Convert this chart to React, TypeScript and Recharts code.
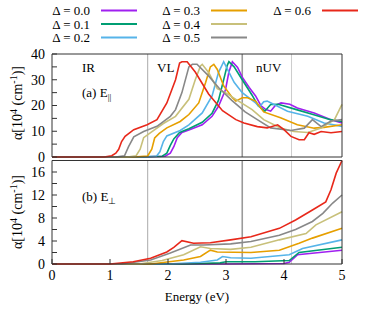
import { LineChart, Line, XAxis, YAxis, ReferenceLine } from 'recharts';

type Pt = [number, number];

const deltas = ['0.0', '0.1', '0.2', '0.3', '0.4', '0.5', '0.6'];
const colors = ['#a020f0', '#009e73', '#56b4e9', '#e69f00', '#c8c07a', '#888888', '#e8281a'];

const xTicks = [0, 1, 2, 3, 4, 5];
const topYTicks = [0, 5, 10, 15, 20, 25, 30, 35, 40];
const botYTicks = [0, 2, 4, 6, 8, 10, 12, 14, 16];
const regionEdges = [1.65, 3.28, 4.13];
const regionLabels = ['IR', 'VL', 'nUV'];

// (a) E parallel
const par00: Pt[] = [[0, 0], [1.5, 0], [1.95, 0.3], [2.04, 1.5], [2.1, 4], [2.16, 7.5], [2.24, 9.5], [2.36, 10.5], [2.59, 12.5], [2.76, 15.8], [2.87, 19.7], [2.99, 26], [3.05, 33], [3.11, 37], [3.2, 34.8], [3.28, 31], [3.4, 27], [3.51, 23.7], [3.6, 20], [3.68, 18.5], [3.77, 17.8], [3.85, 20], [3.95, 21], [4.1, 20.5], [4.23, 19], [4.52, 17.1], [4.81, 14.5], [5.0, 13.2]];
const par01: Pt[] = [[0, 0], [1.5, 0], [1.9, 0.3], [1.98, 1.5], [2.04, 4.5], [2.1, 7], [2.2, 9.5], [2.36, 11], [2.59, 13.5], [2.76, 17], [2.87, 22], [2.96, 30], [3.02, 35.5], [3.05, 37], [3.14, 35], [3.28, 30], [3.45, 24], [3.55, 20], [3.67, 17.8], [3.77, 20.4], [3.9, 20.5], [4.2, 18.5], [4.5, 16.5], [4.8, 14.5], [5.0, 13.8]];
const par02: Pt[] = [[0, 0], [1.5, 0], [1.8, 0.3], [1.86, 2], [1.92, 6], [1.98, 8.2], [2.21, 10.3], [2.36, 12.5], [2.59, 17.1], [2.76, 23.7], [2.87, 32.8], [2.96, 37], [3.05, 33], [3.14, 29], [3.28, 25], [3.51, 21], [3.58, 19.5], [3.65, 21.5], [3.71, 21.7], [3.83, 20.4], [4.06, 17.8], [4.41, 15.8], [4.69, 13.2], [5.0, 11.9]];
const par03: Pt[] = [[0, 0], [1.4, 0], [1.65, 0.4], [1.72, 3], [1.77, 7.4], [1.85, 9.2], [1.98, 11.3], [2.21, 13.8], [2.36, 16.5], [2.53, 21], [2.65, 29], [2.73, 35], [2.79, 36], [2.85, 34], [2.96, 27.6], [3.11, 23], [3.17, 21.7], [3.28, 23], [3.37, 23], [3.51, 21.7], [3.65, 17.5], [3.94, 15.2], [4.23, 12.5], [4.52, 11.2], [4.69, 11.5], [5.0, 12.5]];
const par04: Pt[] = [[0, 0], [1.3, 0], [1.45, 0.5], [1.52, 3], [1.58, 7.5], [1.7, 9.5], [1.92, 13], [2.13, 15.8], [2.36, 22.4], [2.47, 30], [2.56, 35.4], [2.59, 36], [2.7, 32.8], [2.79, 29], [2.85, 26.5], [2.99, 25], [3.17, 22.4], [3.45, 18.4], [3.65, 14.5], [3.94, 11.3], [4.17, 9.9], [4.41, 9.5], [4.64, 11.3], [4.87, 14.5], [5.0, 20.4]];
const par05: Pt[] = [[0, 0], [1.1, 0], [1.25, 0.5], [1.32, 4], [1.41, 7.8], [1.58, 9.9], [1.81, 11.9], [2.04, 15.8], [2.13, 18.4], [2.24, 25], [2.36, 35], [2.42, 36], [2.5, 36], [2.7, 31.5], [2.87, 27], [3.1, 22], [3.33, 17.5], [3.54, 14.5], [3.77, 11.3], [4.12, 10.3], [4.35, 11.2], [4.49, 14.5], [4.64, 11.8], [4.81, 14], [5.0, 14.5]];
const par06: Pt[] = [[0, 0], [0.9, 0], [1.03, 0.5], [1.1, 1.5], [1.15, 3], [1.2, 6], [1.26, 8], [1.41, 10.6], [1.64, 12.5], [1.81, 14.5], [1.98, 21], [2.13, 30], [2.2, 36.5], [2.24, 37], [2.33, 37], [2.47, 33], [2.7, 24.5], [2.94, 18], [3.17, 14.5], [3.31, 13.2], [3.54, 11.8], [3.71, 11.3], [3.89, 12.5], [4.0, 10.6], [4.12, 8], [4.26, 6.7], [4.35, 6.7], [4.43, 9.4], [4.52, 8.8], [4.64, 9.9], [4.81, 9.4], [5.0, 9.9]];

// (b) E perpendicular
const perp00: Pt[] = [[0, 0], [3.0, 0], [4.0, 0.1], [4.09, 0.3], [4.23, 1.6], [5.0, 2.4]];
const perp01: Pt[] = [[0, 0], [2.3, 0], [2.9, 0.2], [3.0, 0.4], [3.5, 0.4], [4.09, 0.6], [4.26, 2.0], [5.0, 2.9]];
const perp02: Pt[] = [[0, 0], [2.0, 0], [2.56, 0.3], [2.85, 0.7], [2.94, 1.3], [3.08, 1.1], [3.43, 1.0], [4.09, 1.6], [4.32, 2.7], [5.0, 4.2]];
const perp03: Pt[] = [[0, 0], [1.7, 0], [2.27, 0.7], [2.56, 1.3], [2.73, 2.4], [2.85, 2.1], [3.43, 2.0], [3.92, 2.4], [4.26, 3.6], [4.49, 4.5], [5.0, 6.2]];
const perp04: Pt[] = [[0, 0], [1.5, 0], [1.9, 0.6], [2.27, 1.6], [2.56, 3], [2.73, 2.7], [3.08, 2.55], [3.43, 2.9], [3.92, 4.2], [4.38, 5.3], [4.55, 6.8], [5.0, 9.1]];
const perp05: Pt[] = [[0, 0], [1.2, 0], [1.7, 0.7], [2.04, 1.9], [2.39, 3.3], [2.61, 3.3], [3.08, 3.5], [3.43, 3.9], [3.92, 5.0], [4.2, 6], [4.49, 7.4], [4.67, 8.8], [4.84, 10.6], [5.0, 12]];
const perp06: Pt[] = [[0, 0], [1.0, 0], [1.4, 0.4], [1.7, 1], [1.98, 2.1], [2.1, 2.9], [2.24, 4.05], [2.44, 3.6], [2.73, 3.7], [3.08, 4.2], [3.43, 4.75], [3.92, 6.2], [4.2, 7.65], [4.49, 9.4], [4.72, 10.8], [4.81, 12.9], [4.9, 15.8], [5.0, 18]];

const parallel = [par00, par01, par02, par03, par04, par05, par06];
const perpendicular = [perp00, perp01, perp02, perp03, perp04, perp05, perp06];

const FONT = "'Liberation Serif', 'Times New Roman', serif";
const AXIS = '#333';
const tickStyle = { fill: '#000', fontSize: 14, fontFamily: FONT };
const edgeColors = ['#aaaaaa', '#9a9a9a', '#cccccc'];
const edgeWidths = [1, 1.6, 1];

const toPts = (s: Pt[]) => s.map(([x, y]) => ({ x, y }));

function Panel({ series, yMax, yTicks, every, showX, height, margin }: {
  series: Pt[][]; yMax: number; yTicks: number[]; every: number; showX: boolean;
  height: number; margin: { top: number; right: number; bottom: number; left: number };
}) {
  return (
    <LineChart width={374} height={height} margin={margin}>
      <XAxis
        type="number" dataKey="x" domain={[0, 5]} ticks={xTicks}
        height={showX ? 47 : 1} tickSize={-5} tickMargin={11}
        tick={showX ? tickStyle : false} stroke={AXIS}
      />
      <XAxis xAxisId="top" orientation="top" type="number" dataKey="x" domain={[0, 5]} ticks={xTicks}
        height={1} tickSize={-5} tick={false} stroke={AXIS} />
      <YAxis
        type="number" domain={[0, yMax]} ticks={yTicks} width={52} interval={0}
        tickSize={-5} tickMargin={12} stroke={AXIS} tick={tickStyle}
        tickFormatter={(v: number) => (v % every === 0 ? String(v) : '')}
      />
      <YAxis yAxisId="r" orientation="right" type="number" domain={[0, yMax]} ticks={yTicks}
        width={1} tickSize={-5} tick={false} stroke={AXIS} interval={0} />
      {regionEdges.map((e, i) => (
        <ReferenceLine key={e} x={e} stroke={edgeColors[i]} strokeWidth={edgeWidths[i]} />
      ))}
      {series.map((s, i) => (
        <Line key={deltas[i]} data={toPts(s)} dataKey="y" type="linear" dot={false}
          stroke={colors[i]} strokeWidth={1.6} isAnimationActive={false} />
      ))}
    </LineChart>
  );
}

const YLabel = ({ cy }: { cy: number }) => (
  <text transform={`translate(22,${cy}) rotate(-90)`} textAnchor="middle" fontSize={14} fontFamily={FONT}>
    α[10<tspan dy={-5} fontSize={10}>4</tspan><tspan dy={5}> (cm</tspan>
    <tspan dy={-5} fontSize={10}>-1</tspan><tspan dy={5}>)]</tspan>
  </text>
);

export default function App() {
  const legendCols = [90, 200, 311];
  const legendRows = [10.5, 24, 37.5];
  return (
    <div style={{ position: 'absolute', left: 0, top: 0, width: 374, height: 311, background: '#fff' }}>
      <div style={{ position: 'absolute', left: 0, top: 0 }}>
        <Panel series={parallel} yMax={40} yTicks={topYTicks} every={10} showX={false}
          height={172} margin={{ top: 53, right: 31, bottom: 14, left: 0 }} />
      </div>
      <div style={{ position: 'absolute', left: 0, top: 159 }}>
        <Panel series={perpendicular} yMax={18} yTicks={botYTicks} every={4} showX
          height={152} margin={{ top: 0.5, right: 31, bottom: 0, left: 0 }} />
      </div>
      <svg width={374} height={311} style={{ position: 'absolute', left: 0, top: 0, pointerEvents: 'none' }}>
        {deltas.map((d, i) => {
          const col = Math.floor(i / 3);
          const row = i % 3;
          const x = legendCols[col];
          const y = legendRows[row];
          return (
            <g key={d}>
              <text x={x} y={y + 4.5} textAnchor="end" fontSize={13} fontFamily={FONT}>Δ = {d}</text>
              <line x1={x + 11} x2={x + 47} y1={y} y2={y} stroke={colors[i]} strokeWidth={2} />
            </g>
          );
        })}
        <text x={82} y={72} fontSize={13} fontFamily={FONT}>{regionLabels[0]}</text>
        <text x={157} y={72} fontSize={13} fontFamily={FONT}>{regionLabels[1]}</text>
        <text x={256} y={72} fontSize={13} fontFamily={FONT}>{regionLabels[2]}</text>
        <text x={82} y={97} fontSize={13} fontFamily={FONT}>
          (a) E<tspan dy={3} fontSize={9}>||</tspan>
        </text>
        <text x={82} y={201} fontSize={13} fontFamily={FONT}>
          (b) E<tspan dy={3} fontSize={9}>⊥</tspan>
        </text>
        <YLabel cy={103} />
        <YLabel cy={212} />
        <text x={197} y={301} textAnchor="middle" fontSize={13} fontFamily={FONT}>Energy (eV)</text>
      </svg>
    </div>
  );
}
